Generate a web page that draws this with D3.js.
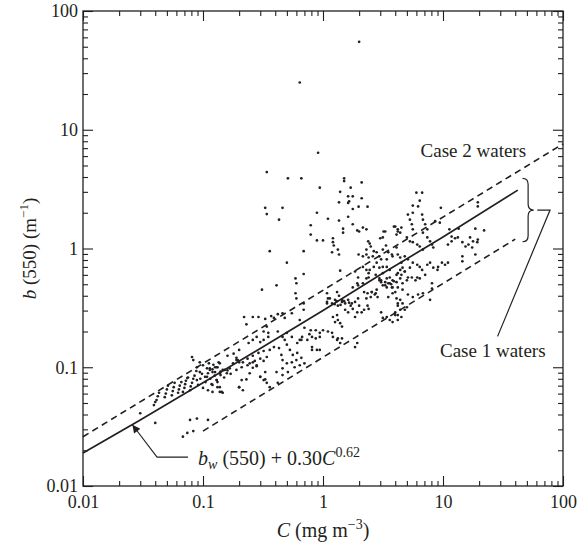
<!DOCTYPE html>
<meta charset="utf-8">
<style>
body { margin: 0; background: #fff; }
text { font-family: "Liberation Serif", "Times New Roman", serif; fill: #231f20; }
</style>
<body>
<script src="https://d3js.org/d3.v7.min.js"></script>
<script>

// tick labels
var majorTicks = [0.01, 0.1, 1, 10, 100];
var tickLabels = ["0.01", "0.1", "1", "10", "100"];

// b(550) model line and the two dashed bounds (C, b)
var modelC = [0.01, 0.03, 0.1, 0.3, 1, 3, 10, 42];
var modelB = [0.019, 0.036, 0.074, 0.144, 0.30, 0.60, 1.25, 3.1];
var upperC = [0.01, 100];
var upperB = [0.026, 7.6];
var lowerC = [0.1, 40];
var lowerB = [0.029, 1.2];

// measurements [C, b]
var samples = [
  [2.0,55],[0.64,25],[0.91,6.4],[0.34,4.4],[0.51,3.9],[0.66,3.9],[1.5,3.9],[1.5,3.7],[2.1,3.6],[0.94,3.25],
  [1.39,3.0],[1.7,3.25],[1.62,2.75],[1.77,2.75],[2.1,2.65],[1.36,2.45],[1.65,2.5],[1.62,2.42],[1.77,2.15],[1.98,2.25],
  [2.35,2.25],[0.33,2.2],[0.34,1.95],[0.46,2.2],[0.89,2.0],[1.1,1.78],[1.36,1.72],[1.62,1.85],[0.43,1.75],[1.77,1.6],
  [0.79,1.57],[2.15,1.5],[2.3,1.45],[2.0,1.39],[1.93,1.42],[3.2,1.39],[3.9,1.53],[4.2,1.39],[0.79,1.31],[0.89,1.17],
  [1.0,1.17],[1.21,1.22],[1.21,1.13],[1.23,1.06],[1.33,0.98],[1.47,1.47],[1.47,1.36],[2.38,1.15],[2.45,1.1],[3.0,1.22],
  [3.35,1.06],[2.3,0.98],[2.5,1.04],[1.98,0.89],[2.15,0.86],[2.3,0.89],[2.4,0.84],[2.6,0.86],[2.65,0.95],[2.8,0.93],
  [3.15,0.98],[3.5,0.93],[3.8,0.86],[4.2,0.89],[4.1,1.02],[0.36,0.95],[0.69,0.95],[1.19,0.93],[1.36,0.89],[0.50,0.76],
  [0.59,0.56],[0.60,0.51],[0.69,0.61],[0.31,0.45],[0.41,0.49],[0.59,0.42],[0.60,0.38],[0.69,0.345],[0.69,0.305],
  [1.08,0.42],[1.14,0.38],[1.08,0.345],[1.31,0.43],[1.36,0.40],[1.44,0.37],[1.77,0.47],[1.96,0.49],[2.15,0.51],
  [2.3,0.56],[2.4,0.57],[2.45,0.66],[2.65,0.70],[2.8,0.76],[3.05,0.81],[3.4,0.70],[3.6,0.66],[2.95,0.54],[3.3,0.52],
  [3.6,0.51],[3.8,0.47],[4.1,0.52],[2.55,0.43],[2.7,0.41],[2.8,0.45],[2.85,0.39],
  [1.10,0.38],[1.08,0.355],[1.19,0.345],[1.26,0.37],[1.33,0.33],[1.44,0.355],[1.53,0.345],[1.62,0.37],[1.74,0.345],
  [1.85,0.355],[1.96,0.38],[2.0,0.33],[1.77,0.31],[1.93,0.29],[1.85,0.265],[1.62,0.29],[1.53,0.305],[1.25,0.34],
  [1.4,0.335],[1.7,0.33],[1.5,0.36],[1.3,0.36],[1.65,0.35],
  [2.2,0.43],[2.35,0.42],[2.55,0.43],[2.75,0.42],[2.5,0.39],[2.3,0.38],[2.35,0.33],[2.4,0.31],[2.2,0.305],[2.1,0.29],
  [1.31,0.275],[1.33,0.25],[1.39,0.235],[1.44,0.22],[1.26,0.24],[1.21,0.265],
  [0.79,0.205],[0.77,0.19],[0.74,0.17],[0.81,0.18],[0.87,0.175],[0.94,0.18],[0.67,0.18],[0.64,0.17],[0.61,0.16],[0.66,0.17],
  [1.0,0.205],[1.1,0.20],[1.19,0.195],[1.33,0.175],[1.44,0.175],[1.93,0.16],[1.85,0.148],[4.2,0.345],[4.4,0.305],[4.0,0.275],
  [1.39,0.65],[1.85,0.64],[1.96,0.57],[1.93,0.51],[2.15,0.70],[2.3,0.66],[2.4,0.62],[2.75,0.60],[2.95,0.56],[3.05,0.52],
  [3.15,0.49],[3.4,0.47],[3.7,0.50],[3.9,0.53],[2.95,0.69],[3.15,0.70],[4.2,0.62],[4.5,0.60],[4.8,0.64],[5.1,0.57],
  [4.2,0.47],[4.6,0.45],[4.0,0.43],[4.1,0.38],[4.4,0.37],
  [0.48,0.17],[0.50,0.155],[0.53,0.14],[0.56,0.127],[0.60,0.115],[0.55,0.11],[0.50,0.108],[0.46,0.098],[0.51,0.091],
  [0.58,0.10],[0.64,0.104],[0.70,0.108],[0.66,0.12],[0.61,0.132],[0.81,0.14],[0.94,0.14],
  [6.0,2.95],[6.7,2.95],[6.4,2.53],[6.2,2.26],[9.6,2.2],[19.5,2.45],[19.5,2.26],[5.6,2.3],[6.7,1.93],[5.6,2.0],
  [5.1,1.93],[5.3,1.75],[5.5,1.6],[5.6,1.45],[6.8,1.75],[7.1,1.6],[7.4,1.45],[6.8,1.36],[8.6,1.7],[9.4,1.65],
  [4.0,1.53],[4.2,1.45],[4.4,1.36],[4.1,1.31],[4.5,1.5],[3.3,1.39],[3.15,1.24],
  [5.0,1.24],[5.3,1.15],[5.6,1.13],[6.1,1.08],[6.4,1.04],[6.8,0.98],[7.4,1.24],[7.8,1.15],[8.1,1.08],[8.3,1.02],
  [11.3,1.45],[11.8,1.26],[13.5,1.47],[18.6,1.47],[22,1.42],[11,1.08],[11.8,1.15],[12.6,1.22],[13.3,1.24],[14.5,1.13],
  [15.4,1.04],[16.3,1.08],[16.8,1.24],[17.8,1.15],[19.3,1.13],[19.5,1.19],[17.5,1.02],[14.5,0.78],[18.6,0.89],[14.5,0.86],
  [2.95,0.86],[3.4,0.81],[3.75,0.89],[4.4,0.84],[4.8,0.86],[5.1,0.81],
  [4.5,0.76],[4.6,0.69],[4.4,0.66],[4.8,0.64],[5.3,0.69],[5.6,0.76],[6.1,0.73],[6.4,0.70],[6.7,0.66],
  [7.4,0.73],[7.8,0.76],[8.3,0.69],[9.0,0.66],[9.1,0.70],[9.8,0.76],[10.4,0.73],[11,0.76],
  [3.15,0.62],[3.4,0.56],[3.6,0.57],[3.8,0.54],[3.5,0.51],[3.75,0.47],[3.3,0.49],[3.05,0.54],
  [4.1,0.60],[4.4,0.56],[4.6,0.51],[5.0,0.54],[5.5,0.57],[5.9,0.54],[6.1,0.57],[6.4,0.56],[7.1,0.60],[8.1,0.51],[8.1,0.46],
  [3.5,0.39],[3.8,0.42],[5.1,0.41],[5.6,0.39],[6.2,0.41],[6.8,0.42],[7.8,0.37],
  [4.2,0.33],[4.6,0.345],[5.0,0.32],[4.8,0.305],[4.0,0.29],[4.2,0.275],[4.5,0.265],[3.05,0.29],[3.15,0.26],[3.4,0.265],
  [3.6,0.25],[3.8,0.24],[4.2,0.25],
  [0.22,0.265],[0.23,0.23],[0.26,0.265],[0.29,0.265],[0.33,0.255],[0.37,0.27],[0.39,0.26],[0.42,0.28],[0.46,0.285],[0.48,0.26],
  [0.34,0.22],[0.32,0.20],[0.35,0.195],[0.28,0.18],[0.26,0.17],[0.24,0.16],[0.30,0.163],[0.32,0.17],[0.35,0.18],[0.42,0.20],
  [0.46,0.18],[0.39,0.148],[0.43,0.145],[0.45,0.127],[0.46,0.115],[0.36,0.14],[0.32,0.137],[0.29,0.132],[0.26,0.125],
  [0.235,0.118],[0.245,0.108],[0.27,0.113],[0.30,0.118],[0.28,0.102],[0.32,0.113],[0.34,0.122],
  [0.33,0.091],[0.30,0.083],[0.33,0.079],[0.41,0.091],[0.42,0.074],[0.46,0.086],[0.245,0.089],[0.23,0.079],[0.21,0.078],[0.20,0.068],
  [0.19,0.095],[0.178,0.108],[0.195,0.115],[0.215,0.11],[0.167,0.098],[0.158,0.089],[0.146,0.095],[0.14,0.086],[0.132,0.10],
  [0.126,0.10],[0.12,0.091],[0.11,0.089],[0.104,0.083],[0.094,0.091],[0.089,0.10],[0.083,0.115],[0.081,0.122],[0.094,0.11],
  [0.10,0.104],[0.108,0.098],[0.114,0.095],
  [0.089,0.078],[0.091,0.071],[0.10,0.067],[0.11,0.064],[0.12,0.062],[0.138,0.068],[0.143,0.062],[0.132,0.075],[0.12,0.071],
  [0.085,0.085],[0.095,0.08],[0.105,0.075],[0.115,0.08],[0.125,0.085],[0.13,0.078],[0.118,0.072],[0.098,0.088],[0.108,0.083],
  [0.075,0.082],[0.088,0.093],[0.14,0.092],[0.15,0.082],[0.16,0.094],[0.17,0.088],[0.122,0.105],[0.135,0.11],[0.112,0.108],
  [0.16,0.125],[0.18,0.13],[0.2,0.14],[0.19,0.12],
  [0.19,0.115],[0.20,0.11],[0.21,0.10],[0.235,0.104],[0.26,0.11],[0.28,0.104],[0.26,0.099],
  [0.138,0.108],[0.13,0.1],[0.12,0.096],[0.114,0.098],[0.126,0.091],[0.138,0.089],[0.152,0.095],
  [0.13,0.078],[0.132,0.068],[0.138,0.062],[0.146,0.061],[0.20,0.068],[0.215,0.064],
  [0.30,0.083],[0.32,0.078],[0.34,0.074],[0.36,0.068],
  [0.50,0.195],[0.55,0.18],[0.87,0.205],[0.70,0.215],[0.94,0.195],[0.81,0.148],[0.89,0.14],[1.21,0.18],[1.31,0.17],[1.39,0.16],
  [0.55,0.285],[0.64,0.25],
  [0.041,0.053],[0.042,0.057],[0.043,0.061],[0.039,0.048],[0.040,0.051],
  [0.048,0.056],[0.049,0.06],[0.05,0.065],[0.051,0.07],
  [0.055,0.058],[0.056,0.063],[0.057,0.068],[0.058,0.074],
  [0.062,0.061],[0.063,0.065],[0.064,0.07],[0.066,0.075],
  [0.068,0.062],[0.07,0.067],[0.071,0.072],[0.072,0.077],[0.074,0.081],
  [0.078,0.064],[0.079,0.069],[0.081,0.074],[0.083,0.08],
  [0.078,0.036],[0.089,0.037],[0.11,0.036],[0.074,0.028],[0.083,0.029],[0.04,0.034],[0.068,0.026],[0.030,0.041]
];

var width = 578, height = 546;
var x = d3.scaleLog().domain([0.01, 100]).range([83, 563]);
var y = d3.scaleLog().domain([0.01, 100]).range([486, 11]);
var ink = "#231f20";
var serif = "Liberation Serif, Times New Roman, serif";

var svg = d3.select("body").append("svg")
    .attr("width", width)
    .attr("height", height);

var minorTicks = x.ticks().filter(function(d) { return majorTicks.indexOf(d) < 0; });
function fmt(d, i) { return tickLabels[majorTicks.indexOf(d)]; }

// axes, ticks pointing inward on all four sides
function styleAxis(g) {
  g.attr("font-family", serif);
  g.select(".domain").remove();
  g.selectAll("line").attr("stroke", ink).attr("stroke-width", 1.1);
  g.selectAll("text").attr("font-family", serif)
    .attr("font-size", 18).attr("fill", ink);
}

svg.append("g").attr("transform", "translate(0,486)")
    .call(d3.axisBottom(x).tickValues(majorTicks).tickSize(-10).tickPadding(9).tickFormat(fmt)).call(styleAxis);
svg.append("g").attr("transform", "translate(0,486)")
    .call(d3.axisBottom(x).tickValues(minorTicks).tickSize(-5).tickFormat("")).call(styleAxis);
svg.append("g").attr("transform", "translate(0,11)")
    .call(d3.axisTop(x).tickValues(majorTicks).tickSize(-10).tickFormat("")).call(styleAxis);
svg.append("g").attr("transform", "translate(0,11)")
    .call(d3.axisTop(x).tickValues(minorTicks).tickSize(-5).tickFormat("")).call(styleAxis);

svg.append("g").attr("transform", "translate(83,0)")
    .call(d3.axisLeft(y).tickValues(majorTicks).tickSize(-10).tickPadding(5).tickFormat(fmt)).call(styleAxis);
svg.append("g").attr("transform", "translate(83,0)")
    .call(d3.axisLeft(y).tickValues(minorTicks).tickSize(-5).tickFormat("")).call(styleAxis);
svg.append("g").attr("transform", "translate(563,0)")
    .call(d3.axisRight(y).tickValues(majorTicks).tickSize(-10).tickFormat("")).call(styleAxis);
svg.append("g").attr("transform", "translate(563,0)")
    .call(d3.axisRight(y).tickValues(minorTicks).tickSize(-5).tickFormat("")).call(styleAxis);

// frame
svg.append("rect")
    .attr("x", x(0.01)).attr("y", y(100))
    .attr("width", x(100) - x(0.01)).attr("height", y(0.01) - y(100))
    .attr("fill", "none").attr("stroke", ink).attr("stroke-width", 1.3);

// points
svg.append("g").selectAll("circle")
    .data(samples)
  .enter().append("circle")
    .attr("cx", function(d) { return x(d[0]); })
    .attr("cy", function(d) { return y(d[1]); })
    .attr("r", 1.35)
    .attr("fill", ink);

// lines
var line = d3.line()
    .x(function(d) { return x(d[0]); })
    .y(function(d) { return y(d[1]); });

svg.append("path")
    .datum(d3.zip(modelC, modelB))
    .attr("d", line)
    .attr("fill", "none").attr("stroke", ink).attr("stroke-width", 1.7);
svg.append("path")
    .datum(d3.zip(upperC, upperB))
    .attr("d", line)
    .attr("fill", "none").attr("stroke", ink).attr("stroke-width", 1.6)
    .attr("stroke-dasharray", "6.5,4.5");
svg.append("path")
    .datum(d3.zip(lowerC, lowerB))
    .attr("d", line)
    .attr("fill", "none").attr("stroke", ink).attr("stroke-width", 1.6)
    .attr("stroke-dasharray", "6.5,4.5");

// arrow to the model line
svg.append("defs").append("marker")
    .attr("id", "head")
    .attr("viewBox", "0 0 10 10")
    .attr("refX", 10).attr("refY", 5)
    .attr("markerWidth", 11).attr("markerHeight", 8)
    .attr("markerUnits", "userSpaceOnUse")
    .attr("orient", "auto")
  .append("path")
    .attr("d", "M0,0 L10,5 L0,10 Z")
    .attr("fill", ink);

svg.append("path")
    .datum([[0.075, 0.0175], [0.0414, 0.0175], [0.0258, 0.0328]])
    .attr("d", line)
    .attr("fill", "none").attr("stroke", ink).attr("stroke-width", 1.1)
    .attr("marker-end", "url(#head)");

var eq = svg.append("text")
    .attr("x", x(0.091)).attr("y", y(0.0150))
    .attr("font-size", 20);
eq.append("tspan").attr("font-style", "italic").text("b");
eq.append("tspan").attr("font-style", "italic").attr("font-size", 14).attr("dy", 4).text("w");
eq.append("tspan").attr("dy", -4).text(" (550) + 0.30");
eq.append("tspan").attr("font-style", "italic").text("C");
eq.append("tspan").attr("font-size", 14).attr("dy", -8).text("0.62");

// case 1 brace and leader
var bx = x(46), bw = x(57) - x(46), bt = y(3.9), bb = y(1.14), bm = (bt + bb) / 2, r = 6;
var brace = d3.path();
brace.moveTo(bx, bt);
brace.quadraticCurveTo(bx + bw / 2, bt, bx + bw / 2, bt + r);
brace.lineTo(bx + bw / 2, bm - r);
brace.quadraticCurveTo(bx + bw / 2, bm, bx + bw, bm);
brace.quadraticCurveTo(bx + bw / 2, bm, bx + bw / 2, bm + r);
brace.lineTo(bx + bw / 2, bb - r);
brace.quadraticCurveTo(bx + bw / 2, bb, bx, bb);
svg.append("path").attr("d", brace.toString())
    .attr("fill", "none").attr("stroke", ink).attr("stroke-width", 1.2);

svg.append("path")
    .datum([[61, y.invert(bm)], [78, y.invert(bm)], [28.5, 0.182]])
    .attr("d", line)
    .attr("fill", "none").attr("stroke", ink).attr("stroke-width", 1.2);

svg.append("text")
    .attr("x", x(26)).attr("y", y(0.122))
    .attr("text-anchor", "middle").attr("font-size", 19)
    .text("Case 1 waters");

svg.append("text")
    .attr("x", x(17.9)).attr("y", y(5.9))
    .attr("text-anchor", "middle").attr("font-size", 19)
    .text("Case 2 waters");

// axis titles
var xt = svg.append("text")
    .attr("x", x(1)).attr("y", 537)
    .attr("text-anchor", "middle").attr("font-size", 20);
xt.append("tspan").attr("font-style", "italic").text("C");
xt.append("tspan").text(" (mg m");
xt.append("tspan").attr("font-size", 14).attr("dy", -8).text("\u22123");
xt.append("tspan").attr("dy", 8).text(")");

var yt = svg.append("text")
    .attr("transform", "translate(36," + ((y(0.01) + y(100)) / 2) + ") rotate(-90)")
    .attr("text-anchor", "middle").attr("font-size", 19);
yt.append("tspan").attr("font-style", "italic").text("b");
yt.append("tspan").text(" (550) (m");
yt.append("tspan").attr("font-size", 13).attr("dy", -8).text("\u22121");
yt.append("tspan").attr("dy", 8).text(")");

</script>
</body>
